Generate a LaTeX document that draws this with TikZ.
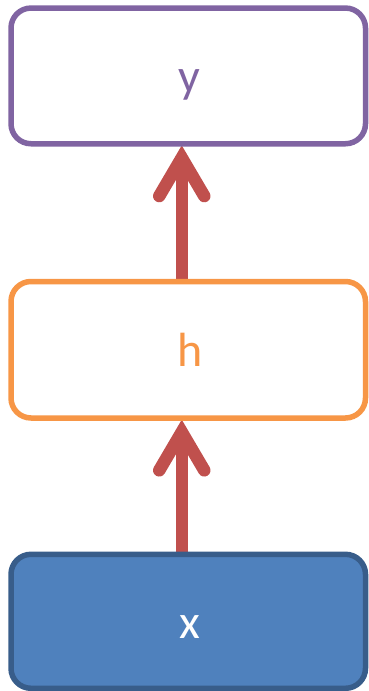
\documentclass[tikz,border=0pt]{standalone}
\usepackage{fontspec}
\setmainfont{Carlito}
\usetikzlibrary{backgrounds}
\definecolor{cpurple}{HTML}{8064A2}
\definecolor{corange}{HTML}{F79646}
\definecolor{cred}{HTML}{C0504D}
\definecolor{cblue}{HTML}{4F81BD}
\definecolor{cbluedark}{HTML}{385D8A}
\tikzset{
  layerbox/.style={rectangle, rounded corners=20pt, line width=5.5pt, outer sep=0pt,
    minimum width=354.5pt, text height=34pt, text depth=0pt,
    font=\fontsize{48}{50}\selectfont},
  shaft/.style={draw=cred, line width=12.5pt, line cap=butt},
  headline/.style={draw=cred, line width=12.5pt, line cap=round, line join=miter, miter limit=10}
}
\begin{document}
\begin{tikzpicture}[x=1pt,y=1pt]
\useasboundingbox (0,0) rectangle (369,-691);
\node[layerbox, draw=cpurple, fill=white, text=cpurple, minimum height=135.7pt] (y) at (188.25,-75.9) {\hspace*{3pt}y};
\node[layerbox, draw=corange, fill=white, text=corange, minimum height=136.5pt] (h) at (188.25,-349.75) {\hspace*{4pt}h};
\node[layerbox, draw=cbluedark, fill=cblue, text=white, minimum height=134pt] (x) at (188.25,-621.3) {\hspace*{3pt}x};
\begin{scope}[on background layer]
  \coordinate (a1s) at ([xshift=-6.5pt]h.north);
  \coordinate (a1t) at ([xshift=-6.5pt]y.south);
  \draw[shaft] (a1s) -- ([yshift=-20pt]a1t);
  \draw[headline] ([shift={(-22.5pt,-52.3pt)}]a1t) -- ([yshift=-14pt]a1t) -- ([shift={(22.5pt,-52.3pt)}]a1t);
  \coordinate (a2s) at ([xshift=-6.5pt]x.north);
  \coordinate (a2t) at ([xshift=-6.5pt]h.south);
  \draw[shaft] (a2s) -- ([yshift=-20pt]a2t);
  \draw[headline] ([shift={(-22.5pt,-52.3pt)}]a2t) -- ([yshift=-14pt]a2t) -- ([shift={(22.5pt,-52.3pt)}]a2t);
\end{scope}
\end{tikzpicture}
\end{document}
